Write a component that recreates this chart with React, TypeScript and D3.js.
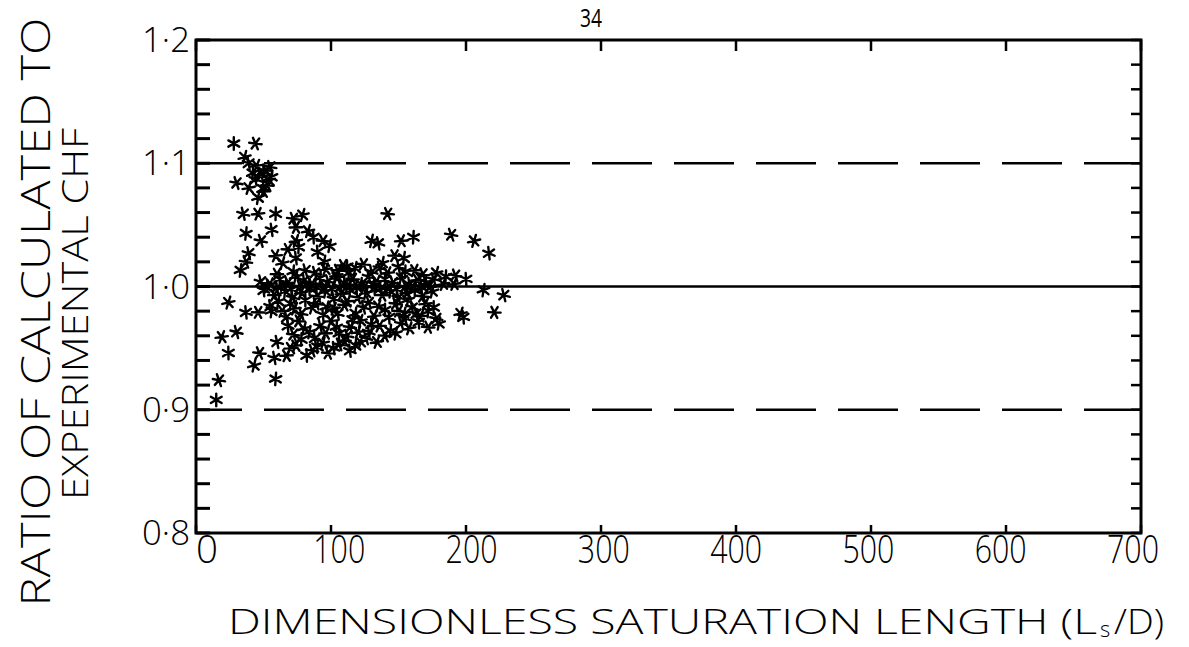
import React from "react";
import * as d3 from "d3";

// ---- data ----
const xTicks = [0, 100, 200, 300, 400, 500, 600, 700];
const yTickLabels = [
  { v: 1.2, t: "1·2" },
  { v: 1.1, t: "1·1" },
  { v: 1.0, t: "1·0" },
  { v: 0.9, t: "0·9" },
  { v: 0.8, t: "0·8" },
];
const dashedRefs = [1.1, 0.9];
const solidRefs = [1.0];

// sparse points, upper region
const upperPoints: [number, number][] = [
  [28, 1.116], [44, 1.116], [36, 1.105], [39, 1.1], [52, 1.094], [56, 1.089],
  [30, 1.084], [39, 1.08], [50, 1.08], [53, 1.082], [46, 1.072], [35, 1.059],
  [46, 1.059], [59, 1.059], [72, 1.055], [79, 1.058], [56, 1.046], [74, 1.048],
  [37, 1.043], [48, 1.037], [74, 1.037], [87, 1.04], [94, 1.037], [99, 1.033],
  [39, 1.027], [59, 1.025], [76, 1.032], [37, 1.02], [64, 1.019], [74, 1.023],
  [109, 1.017], [33, 1.013], [81, 1.013], [104, 1.007], [113, 1.011],
  [142, 1.059], [130, 1.037], [135, 1.035], [152, 1.037], [161, 1.04],
  [189, 1.042], [206, 1.037], [217, 1.027], [147, 1.025], [154, 1.023], [136, 1.015],
  [45, 1.098], [50, 1.094], [48, 1.09], [54, 1.086], [44, 1.087], [50, 1.077],
  [42, 1.092], [55, 1.097], [83, 1.045], [90, 1.028], [68, 1.03], [95, 1.02],
];

// dense band around the 1.0 line
const densePoints: [number, number][] = [
  [48, 1.004], [55, 1.002], [62, 1.006], [68, 1.003], [74, 1.008], [80, 1.005],
  [86, 1.002], [92, 1.007], [98, 1.004], [104, 1.009], [110, 1.003], [116, 1.006],
  [122, 1.002], [128, 1.008], [134, 1.004], [140, 1.006], [146, 1.003], [152, 1.007],
  [158, 1.002], [164, 1.005], [170, 1.003], [176, 1.006], [183, 1.002], [200, 1.006],
  [105, 1.013], [118, 1.015], [130, 1.012], [142, 1.011], [155, 1.012], [168, 1.01], [178, 1.011],
  [50, 0.997], [58, 0.993], [66, 0.996], [72, 0.991], [78, 0.995], [84, 0.998],
  [90, 0.992], [96, 0.996], [102, 0.99], [108, 0.994], [114, 0.997], [120, 0.991],
  [126, 0.995], [132, 0.998], [138, 0.993], [144, 0.996], [150, 0.991], [156, 0.995],
  [162, 0.997], [168, 0.992], [175, 0.996],
  [55, 0.984], [64, 0.98], [70, 0.986], [78, 0.978], [86, 0.983], [94, 0.977],
  [110, 0.985], [118, 0.978], [124, 0.983], [132, 0.976], [140, 0.981], [148, 0.986],
  [154, 0.978], [160, 0.983], [166, 0.976], [172, 0.98], [178, 0.974], [102, 0.982],
  [68, 0.968], [76, 0.972], [84, 0.963], [92, 0.968], [100, 0.972], [106, 0.962],
  [114, 0.967], [122, 0.972], [128, 0.963], [136, 0.968], [144, 0.964], [152, 0.97],
  [158, 0.966], [165, 0.971], [172, 0.967], [180, 0.97],
  [60, 0.955], [70, 0.95], [78, 0.957], [86, 0.948], [94, 0.954], [102, 0.95],
  [110, 0.956], [118, 0.952], [126, 0.958], [134, 0.955], [82, 0.944], [98, 0.946],
  [52, 1.0], [60, 0.999], [65, 1.001], [71, 0.998], [77, 1.0], [83, 1.001],
  [89, 0.999], [95, 1.0], [101, 0.998], [107, 1.0], [113, 1.001], [119, 0.999],
  [125, 1.0], [131, 1.001], [137, 0.999], [143, 1.0], [149, 0.998], [155, 1.0],
  [161, 1.0], [167, 0.999], [173, 1.0],
  [61, 0.988], [67, 0.975], [73, 0.982], [81, 0.989], [89, 0.986], [97, 0.983],
  [105, 0.978], [112, 0.988], [116, 0.973], [128, 0.987], [135, 0.984], [143, 0.975],
  [150, 0.98], [157, 0.989], [163, 0.978], [170, 0.986], [176, 0.983],
  [72, 0.961], [80, 0.966], [88, 0.958], [96, 0.962], [104, 0.967], [112, 0.96],
  [120, 0.963], [130, 0.969], [140, 0.96], [148, 0.962], [155, 0.974],
  [74, 0.952], [90, 0.951], [106, 0.953], [122, 0.955], [114, 0.948],
  [60, 1.01], [72, 1.012], [88, 1.011], [96, 1.014], [112, 1.016], [124, 1.018],
  [138, 1.019], [150, 1.016], [162, 1.013], [185, 1.008], [192, 1.009],
];

// sparse points, lower region and right tail
const lowerPoints: [number, number][] = [
  [24, 0.987], [37, 0.979], [46, 0.979], [56, 0.98], [30, 0.963], [19, 0.959],
  [24, 0.946], [47, 0.946], [43, 0.936], [58, 0.942], [67, 0.944], [59, 0.925],
  [17, 0.924], [196, 0.978], [198, 0.975], [221, 0.979], [213, 0.997], [228, 0.993],
  [191, 1.002], [15, 0.908],
];

const W = 1189;
const H = 647;

export default function App() {
  const x = d3.scaleLinear().domain([0, 700]).range([196, 1141]);
  const xl = d3.scaleLinear().domain([0, 700]).range([207, 1133]);
  const y = d3.scaleLinear().domain([0.8, 1.2]).range([533, 40]);
  const minor = d3.range(0, 21).map((i) => 0.8 + i * 0.02);
  const star = d3.symbol().type(d3.symbolAsterisk).size(110)() as string;
  const all = [...upperPoints, ...densePoints, ...lowerPoints];
  const font = "'Open Sans', 'DejaVu Sans', sans-serif";

  return (
    <svg
      width={W}
      height={H}
      style={{ position: "absolute", left: 0, top: 0, background: "#fff" }}
      fontFamily={font}
      fontWeight={300}
    >
      <rect x={0} y={0} width={W} height={H} fill="#fff" />
      {/* page number */}
      <text x={591} y={27} textAnchor="middle" fontSize={26} fontWeight={400} textLength={22} lengthAdjust="spacingAndGlyphs">
        34
      </text>

      {/* reference lines */}
      {solidRefs.map((v) => (
        <line key={"s" + v} x1={x(0)} x2={x(700)} y1={y(v)} y2={y(v)} stroke="#000" strokeWidth={2.5} />
      ))}
      {dashedRefs.map((v) => (
        <line
          key={"d" + v}
          x1={x(0)}
          x2={x(700)}
          y1={y(v)}
          y2={y(v)}
          stroke="#000"
          strokeWidth={2.5}
          strokeDasharray="46 22 60 22 60 22 60 22 60 22 60 22 60 22 60 22 60 22 60 22 60 22 60 22 60 22 60 22 60 22"
        />
      ))}

      {/* points */}
      <g stroke="#000" strokeWidth={2.4} fill="none" strokeLinecap="round">
        {all.map((p, i) => (
          <path key={i} d={star} transform={`translate(${x(p[0])},${y(p[1])}) rotate(${(i * 37) % 60})`} />
        ))}
      </g>

      {/* frame */}
      <rect x={x(0)} y={y(1.2)} width={x(700) - x(0)} height={y(0.8) - y(1.2)} fill="none" stroke="#000" strokeWidth={3} />

      {/* y minor ticks left & right */}
      {minor.map((v, i) => (
        <g key={"m" + i}>
          <line x1={x(0)} x2={x(0) + 14} y1={y(v)} y2={y(v)} stroke="#000" strokeWidth={3} />
          <line x1={x(700)} x2={x(700) - 10} y1={y(v)} y2={y(v)} stroke="#000" strokeWidth={2.5} />
        </g>
      ))}
      {/* x ticks top & bottom */}
      {xTicks.map((v) => (
        <g key={"x" + v}>
          <line x1={x(v)} x2={x(v)} y1={y(1.2)} y2={y(1.2) + 11} stroke="#000" strokeWidth={2.5} />
          <line x1={x(v)} x2={x(v)} y1={y(0.8)} y2={y(0.8) - 8} stroke="#000" strokeWidth={2.5} />
        </g>
      ))}

      {/* x tick labels */}
      {xTicks.map((v) => (
        <text
          key={"xl" + v}
          x={xl(v)}
          y={563}
          textAnchor="middle"
          fontSize={38}
          textLength={v === 0 ? 22 : 52}
          lengthAdjust="spacingAndGlyphs"
        >
          {String(v)}
        </text>
      ))}

      {/* y tick labels */}
      {yTickLabels.map((d) => (
        <text
          key={"yl" + d.v}
          x={190}
          y={y(d.v) + 12}
          textAnchor="end"
          fontSize={34}
          textLength={48}
          lengthAdjust="spacingAndGlyphs"
        >
          {d.t}
        </text>
      ))}

      {/* axis titles */}
      <text x={228} y={634} fontSize={35} textLength={869} lengthAdjust="spacingAndGlyphs">
        DIMENSIONLESS SATURATION LENGTH (L
      </text>
      <text x={1100} y={637} fontSize={22}>
        s
      </text>
      <text x={1114} y={634} fontSize={35} textLength={50} lengthAdjust="spacingAndGlyphs">
        /D)
      </text>
      <text
        transform="translate(50,312) rotate(-90)"
        textAnchor="middle"
        fontSize={40}
        textLength={589}
        lengthAdjust="spacingAndGlyphs"
      >
        RATIO OF CALCULATED TO
      </text>
      <text
        transform="translate(88,314) rotate(-90)"
        textAnchor="middle"
        fontSize={37}
        textLength={372}
        lengthAdjust="spacingAndGlyphs"
      >
        EXPERIMENTAL CHF
      </text>
    </svg>
  );
}
